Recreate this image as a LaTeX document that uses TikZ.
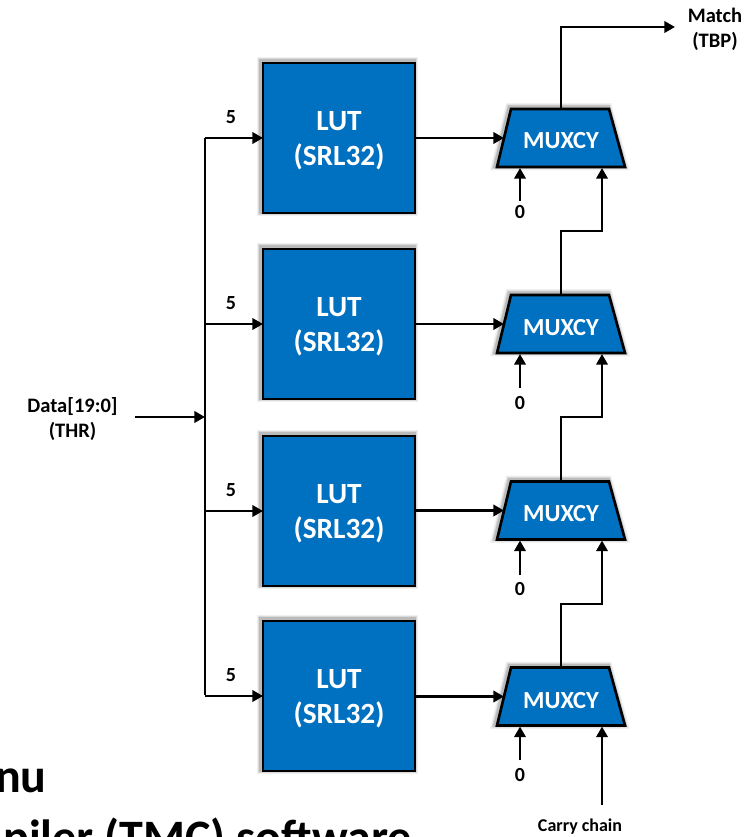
\documentclass[tikz,border=0pt]{standalone}
\usepackage{fontspec}
\setmainfont{Carlito}[BoldFont={Carlito Bold}]
\usetikzlibrary{arrows.meta,calc}
\definecolor{lutblue}{RGB}{0,112,192}
\tikzset{
  x=0.75pt,y=-0.75pt,
  softshadow/.style={
    preaction={draw=black,fill=none,draw opacity=0.06,line width=7pt,transform canvas={shift={(-0.9pt,0.9pt)}}},
    preaction={draw=black,fill=none,draw opacity=0.09,line width=5pt,transform canvas={shift={(-0.9pt,0.9pt)}}},
    preaction={draw=black,fill=none,draw opacity=0.14,line width=3.5pt,transform canvas={shift={(-0.9pt,0.9pt)}}}},
  lutbox/.style={draw=black,line width=2pt,fill=lutblue,minimum width=114pt,minimum height=112.5pt,inner sep=0pt,outer sep=0pt,softshadow},
  luttext/.style={text=white,inner sep=0pt,align=center,font=\bfseries\fontsize{22}{26}\selectfont},
  muxshape/.style={draw=black,line width=2pt,line join=miter,fill=lutblue,softshadow},
  muxtext/.style={text=white,inner sep=0pt,outer sep=0pt,font=\bfseries\fontsize{18.4}{22}\selectfont},
  wire/.style={draw=black,line width=2pt,line join=miter},
  arrowwire/.style={wire,-{Triangle[length=8pt,width=8.5pt]}},
  lbl/.style={font=\bfseries\fontsize{15.4}{18.8}\selectfont,align=center,inner sep=0pt,text=black},
  numlbl/.style={font=\bfseries\fontsize{15}{18}\selectfont,inner sep=0pt,text=black},
  bigtext/.style={font=\bfseries\fontsize{36}{40}\selectfont,inner sep=0pt,text=black}
}
\begin{document}
\begin{tikzpicture}
\useasboundingbox (0,0) rectangle (747,837);
\begin{scope}
\clip (0,0) rectangle (747,837);
\node[bigtext,anchor=base east] (txta) at (47,792) {nu};
\node[bigtext,anchor=base east] (txtb) at (412,853) {piler (TMC) software};
\end{scope}
\coordinate (bustop) at (205,138);
\coordinate (busbot) at (205,695);
\coordinate (busin) at (205,417);
\coordinate (datastart) at (135,417);
\draw[wire,line cap=square] (bustop) -- (busbot);
\draw[arrowwire] (datastart) -- (busin);
\node[lbl] (data) at (72.5,419) {Data[19:0]\\(THR)};
\foreach \n/\by/\my/\tm/\zs/\zl in {1/138/138/141/201/212,2/324/324/327.5/388/403,3/511/510.5/513.5/575/589,4/696/696.5/701/760/775}{
  \node[lutbox] (lut\n) at (339,\by) {};
  \node[luttext] (luttxt\n) at (339,\by+2.5) {LUT\\(SRL32)};
  \path[muxshape] (511,\my-29) -- (609,\my-29) -- (625,\my+29) -- (497,\my+29) -- cycle;
  \coordinate (muxtop\n) at (561,\my-29);
  \node[muxtext] (mux\n) at (561,\tm) {MUXCY};
  \coordinate (bus\n) at (205,\by);
  \coordinate (lutin\n) at (lut\n.west |- bus\n);
  \draw[arrowwire] (bus\n) -- (lutin\n);
  \node[numlbl] (five\n) at (231,\by-21) {5};
  \coordinate (lutout\n) at (lut\n.east |- 0,\my);
  \coordinate (muxin\n) at (504,\my);
  \draw[arrowwire] (lutout\n) -- (muxin\n);
  \coordinate (zeroin\n) at (520,\my+30);
  \coordinate (zerostart\n) at (520,\zs);
  \draw[arrowwire] (zerostart\n) -- (zeroin\n);
  \node[numlbl] (zero\n) at (520,\zl) {0};
  \coordinate (carryin\n) at (602,\my+30);
}
\coordinate (bend1) at (561,27);
\coordinate (matchend) at (675,27);
\draw[arrowwire] (muxtop1) -- (bend1) -- (matchend);
\node[lbl] (match) at (715,29) {Match\\(TBP)};
\foreach \a/\b/\y in {2/1/231,3/2/417,4/3/604}{
  \coordinate (ca\a) at (561,\y);
  \coordinate (cb\a) at (602,\y);
  \draw[arrowwire] (muxtop\a) -- (ca\a) -- (cb\a) -- (carryin\b);
}
\coordinate (carrystart) at (602,805);
\draw[arrowwire] (carrystart) -- (carryin4);
\node[lbl,font=\bfseries\fontsize{13.5}{16}\selectfont] (carry) at (580,827) {Carry chain};
\end{tikzpicture}
\end{document}
